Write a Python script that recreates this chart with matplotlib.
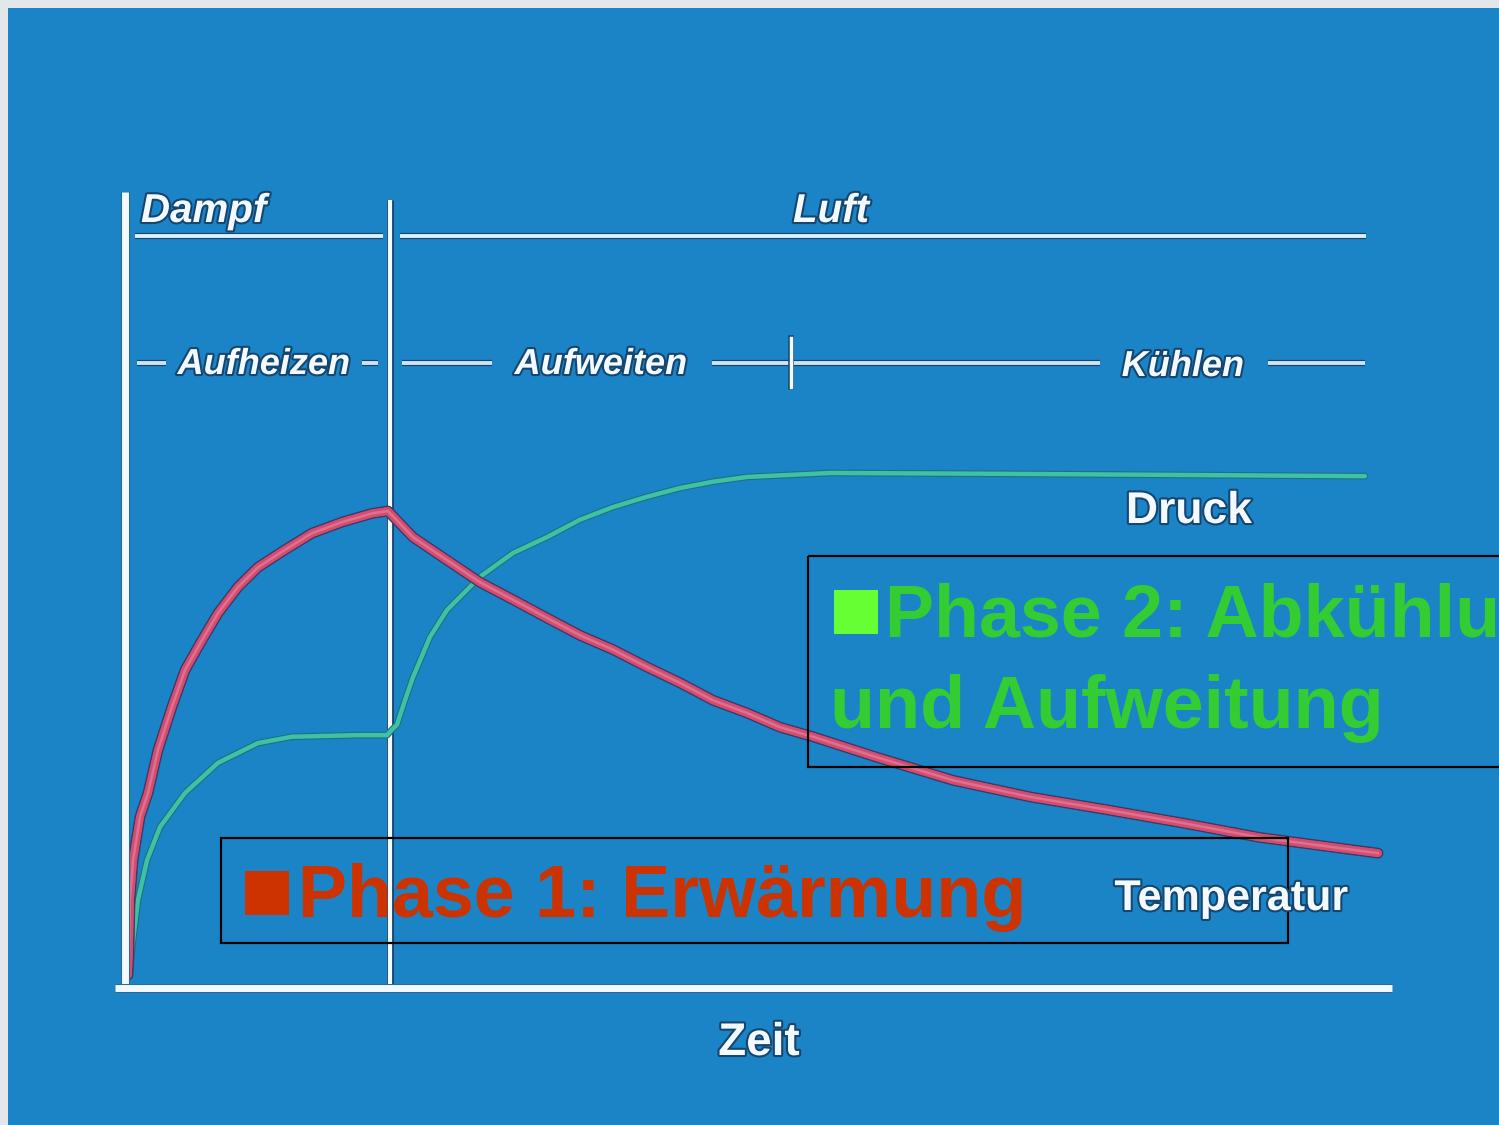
import matplotlib
matplotlib.use("Agg")
import matplotlib.pyplot as plt
import matplotlib.patheffects as pe
from matplotlib.patches import Rectangle

# ---------------- data (chart units: Zeit 0-100, Wert 0-100) ----------------
temp_zeit = [0.47, 0.55, 0.63, 0.87, 1.42, 2.05, 2.83, 3.94, 4.96, 6.30, 7.56,
             9.13, 10.71, 12.83, 14.96, 17.32, 19.69, 20.94, 22.91, 25.59,
             28.19, 30.79, 33.46, 36.06, 38.66, 41.34, 43.94, 46.54, 49.21,
             51.81, 54.41, 59.45, 65.43, 71.50, 77.48, 83.54, 89.53, 95.59, 98.90]
temp_wert = [1.5, 4.7, 11.0, 16.0, 21.5, 24.5, 29.9, 35.4, 40.0, 43.8, 47.2,
             50.5, 53.0, 55.2, 57.3, 58.7, 59.8, 60.1, 56.8, 53.9,
             51.1, 48.9, 46.6, 44.4, 42.6, 40.4, 38.4, 36.2, 34.6,
             32.8, 31.6, 29.0, 26.1, 24.0, 22.4, 20.7, 18.9, 17.6, 16.9]

druck_zeit = [0.55, 0.63, 0.87, 1.26, 1.97, 2.99, 4.96, 7.56, 10.71, 13.39,
              18.58, 20.87, 21.26, 21.65, 22.28, 22.91, 24.25, 25.59, 28.19,
              30.79, 33.46, 36.06, 38.66, 41.34, 43.94, 46.54, 49.21, 55.75,
              69.13, 97.87]
druck_wert = [1.5, 2.2, 5.9, 11.0, 16.0, 20.2, 24.5, 28.3, 30.8, 31.6,
              31.8, 31.8, 32.5, 33.1, 36.2, 39.1, 44.2, 47.6, 51.8,
              54.8, 56.8, 59.0, 60.6, 61.9, 63.0, 63.8, 64.4, 64.9,
              64.8, 64.5]

phase_grenze = 21.1          # Dampf | Luft
kuehl_grenze = 52.6          # Aufweiten | Kühlen

medium_labels = ["Dampf", "Luft"]
schritt_labels = ["Aufheizen", "Aufweiten", "Kühlen"]
kurven_labels = ["Druck", "Temperatur"]
achsen_label = "Zeit"
phase1_text = "Phase 1: Erwärmung"
phase2_text = ["Phase 2: Abkühlung", "und Aufweitung"]

# ---------------- styling ----------------
BLUE = "#1a84c6"
WHITE = "#f2f9ff"
SHADOW = "#15466f"
FONT = "Liberation Sans"

fig = plt.figure(figsize=(14.99, 11.25), dpi=100)
fig.patch.set_facecolor("#e4e7ea")

bg = fig.add_axes([0, 0, 1, 1], zorder=0)
bg.set_xlim(0, 1499); bg.set_ylim(1125, 0); bg.axis("off")
bg.add_patch(Rectangle((8, 8), 1499, 1125, color=BLUE, lw=0))

ax = fig.add_axes([122 / 1499, 138 / 1125, 1270 / 1499, 792 / 1125], zorder=1)
ax.set_xlim(0, 100); ax.set_ylim(0, 100); ax.axis("off")
ax.patch.set_alpha(0)

ov = fig.add_axes([0, 0, 1, 1], zorder=2)
ov.set_xlim(0, 1499); ov.set_ylim(1125, 0); ov.axis("off")
ov.patch.set_alpha(0)

# phase boundary (vertical)
ax.plot([phase_grenze, phase_grenze], [0, 99.4], color=WHITE, lw=3,
        solid_capstyle="butt",
        path_effects=[pe.withStroke(linewidth=5, foreground=SHADOW)], zorder=1)

# curves
ax.plot(druck_zeit, druck_wert, color="#3ec2a2", lw=3.2, solid_joinstyle="round",
        solid_capstyle="round",
        path_effects=[pe.withStroke(linewidth=4.8, foreground="#1f6f86")], zorder=3)
ax.plot(temp_zeit, temp_wert, color="#d24d6e", lw=5.6, solid_joinstyle="round",
        solid_capstyle="round",
        path_effects=[pe.withStroke(linewidth=7.8, foreground="#3f3868"),
                      pe.Normal()], zorder=4)
ax.plot(temp_zeit, temp_wert, color="#df7090", lw=1.8, solid_joinstyle="round",
        zorder=5)

# axes lines
ov.plot([125, 125], [192, 990], color=WHITE, lw=5, solid_capstyle="butt",
        path_effects=[pe.withStroke(linewidth=6.5, foreground="#2a6a96")])
ov.plot([115, 1392], [988, 988], color=WHITE, lw=5, solid_capstyle="butt",
        path_effects=[pe.withStroke(linewidth=6.5, foreground="#2a6a96")])

# Dampf / Luft line
for x0, x1 in [(135, 383), (400, 1366)]:
    ov.plot([x0, x1], [236, 236], color="#dcefff", lw=2.8, solid_capstyle="butt",
            path_effects=[pe.withStroke(linewidth=4.5, foreground=SHADOW)])

# step row
for x0, x1 in [(137, 166), (362, 378), (402, 492), (712, 1100), (1268, 1365)]:
    ov.plot([x0, x1], [363, 363], color="#cfe2f2", lw=2.8, solid_capstyle="butt",
            path_effects=[pe.withStroke(linewidth=4.5, foreground=SHADOW)])
ov.plot([791, 791], [338, 387], color=WHITE, lw=2.5,
        path_effects=[pe.withStroke(linewidth=4, foreground=SHADOW)])

txt_fx = [pe.withStroke(linewidth=3, foreground=SHADOW)]
ital = dict(family=FONT, weight="bold", style="italic", color=WHITE, path_effects=txt_fx)
ov.text(141, 222, medium_labels[0], fontsize=29, ha="left", va="baseline", **ital)
ov.text(831, 222, medium_labels[1], fontsize=29, ha="center", va="baseline", **ital)
ov.text(264, 374, schritt_labels[0], fontsize=26, ha="center", va="baseline", **ital)
ov.text(601, 374, schritt_labels[1], fontsize=26, ha="center", va="baseline", **ital)
ov.text(1183, 376, schritt_labels[2], fontsize=26, ha="center", va="baseline", **ital)

upr = dict(family=FONT, weight="bold", color=WHITE, path_effects=txt_fx)
ov.text(1189, 523, kurven_labels[0], fontsize=32, ha="center", va="baseline", **upr)
ov.text(1231, 910, kurven_labels[1], fontsize=31, ha="center", va="baseline", **upr)
ov.text(759, 1055, achsen_label, fontsize=33, ha="center", va="baseline", **upr)

# Phase boxes
ov.add_patch(Rectangle((221, 838), 1067, 105, fill=False, ec="black", lw=1.6))
ov.add_patch(Rectangle((245, 871), 44, 44, color="#cc3300", lw=0))
ov.text(298, 917, phase1_text, fontsize=53, family=FONT, weight="bold",
        color="#cc3300", ha="left", va="baseline")

ov.add_patch(Rectangle((808, 556), 800, 211, fill=False, ec="black", lw=1.6))
ov.add_patch(Rectangle((834, 590), 44, 44, color="#66ff33", lw=0))
ov.text(885, 637, phase2_text[0], fontsize=53, family=FONT, weight="bold",
        color="#33cc33", ha="left", va="baseline")
ov.text(830, 728, phase2_text[1], fontsize=53, family=FONT, weight="bold",
        color="#33cc33", ha="left", va="baseline")

fig.savefig("out.png", dpi=100, facecolor=fig.get_facecolor())
